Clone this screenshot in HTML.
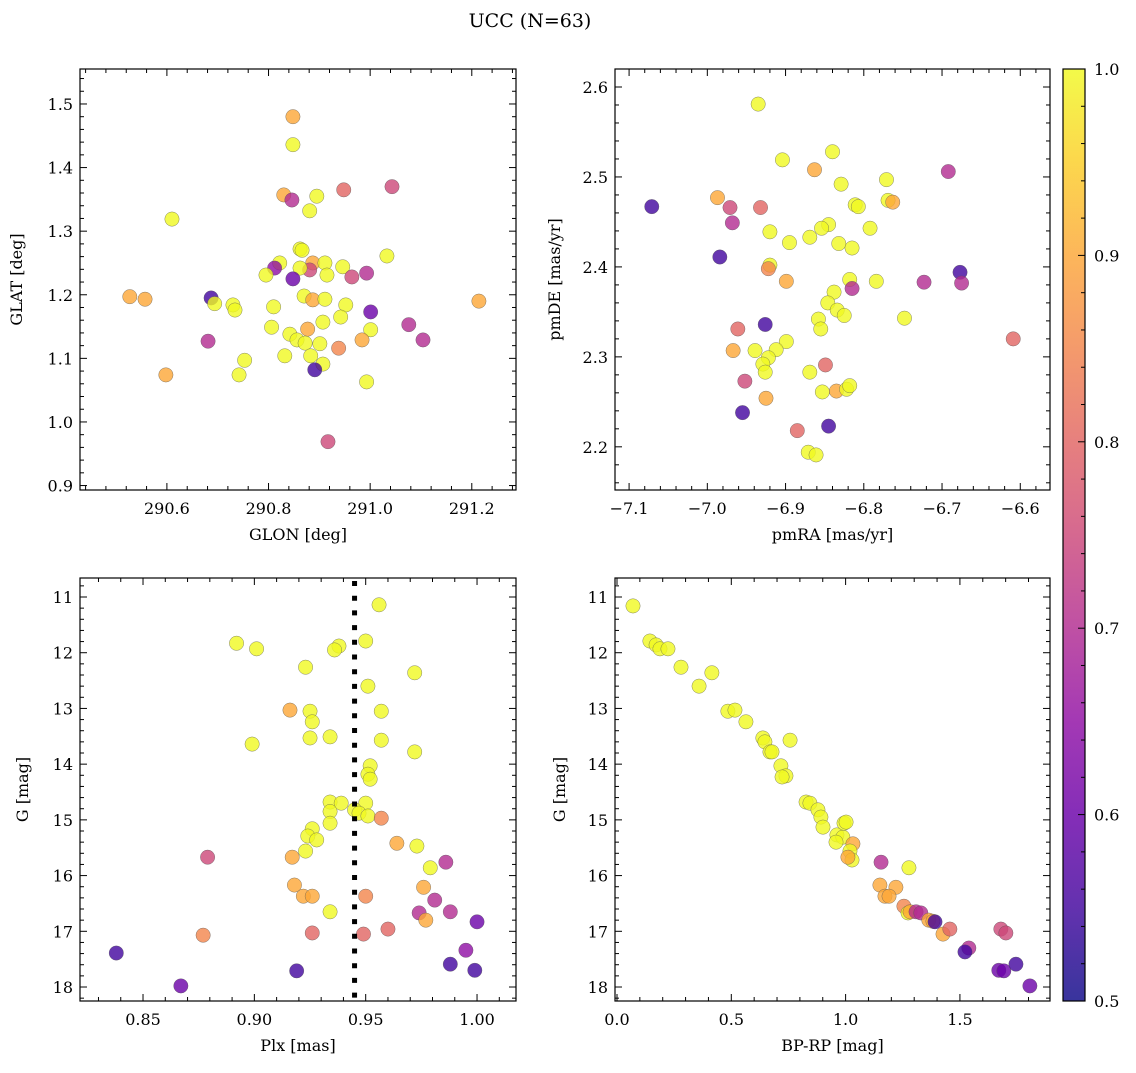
<!DOCTYPE html>
<html><head><meta charset="utf-8"><style>
html,body{margin:0;padding:0;background:#fff}
svg text{font-family:"DejaVu Serif","Liberation Serif",serif;fill:#000}
</style></head><body>
<svg id="fig" width="1136" height="1068" viewBox="0 0 1136 1068" xmlns="http://www.w3.org/2000/svg">
<defs>
<linearGradient id="plasma" x1="0" y1="1" x2="0" y2="0">
<stop offset="0" stop-color="#0d0887"/><stop offset="0.1" stop-color="#41049d"/><stop offset="0.2" stop-color="#6a00a8"/><stop offset="0.3" stop-color="#8f0da4"/><stop offset="0.4" stop-color="#b12a90"/><stop offset="0.5" stop-color="#cc4778"/><stop offset="0.6" stop-color="#e16462"/><stop offset="0.7" stop-color="#f2844b"/><stop offset="0.8" stop-color="#fca636"/><stop offset="0.9" stop-color="#fcce25"/><stop offset="1" stop-color="#f0f921"/>
</linearGradient>
</defs>
<text x="530" y="27" font-size="19" text-anchor="middle">UCC (N=63)</text>
</svg>
<script>
// Panel 1: GLON vs GLAT
const p1x=[290.848,290.848,290.830,290.846,290.895,290.881,290.948,291.043,290.610,290.862,290.866,291.033,290.822,290.887,290.911,290.946,290.812,290.795,290.881,290.862,290.915,290.964,290.993,290.848,290.527,290.557,290.687,290.694,290.730,290.734,290.870,290.887,290.911,290.810,290.952,291.214,291.001,290.942,290.907,291.076,291.001,290.806,290.877,290.842,290.856,290.681,291.104,290.872,290.901,290.984,290.938,290.753,290.832,290.883,290.907,290.891,290.598,290.742,290.993,290.917];
const p1y=[1.480,1.436,1.357,1.349,1.355,1.332,1.365,1.370,1.319,1.272,1.270,1.261,1.250,1.250,1.250,1.244,1.242,1.231,1.239,1.242,1.231,1.228,1.234,1.225,1.197,1.193,1.195,1.186,1.184,1.176,1.198,1.192,1.193,1.181,1.184,1.190,1.173,1.165,1.157,1.153,1.145,1.149,1.146,1.138,1.129,1.127,1.129,1.124,1.123,1.129,1.116,1.097,1.104,1.104,1.091,1.082,1.074,1.074,1.063,0.969];
const p1c=[0.9,1,0.9,0.7,1,1,0.8,0.75,1,1,1,1,1,0.9,1,1,0.65,1,0.75,1,1,0.75,0.7,0.6,0.9,0.9,0.55,1,1,1,1,0.9,1,1,1,0.9,0.6,1,1,0.7,1,1,0.9,1,1,0.7,0.7,1,1,0.9,0.85,1,1,1,1,0.55,0.9,1,1,0.75];
// Panel 2: pmRA vs pmDE
const p2x=[-6.935,-6.840,-6.904,-6.692,-6.863,-6.771,-7.071,-6.987,-6.971,-6.932,-6.829,-6.769,-6.763,-6.811,-6.807,-6.968,-6.845,-6.854,-6.792,-6.920,-6.869,-6.895,-6.832,-6.815,-6.984,-6.920,-6.922,-6.677,-6.723,-6.675,-6.899,-6.784,-6.818,-6.815,-6.838,-6.846,-6.834,-6.825,-6.858,-6.748,-6.855,-6.926,-6.961,-6.899,-6.609,-6.912,-6.967,-6.939,-6.922,-6.929,-6.849,-6.926,-6.869,-6.952,-6.853,-6.835,-6.822,-6.818,-6.925,-6.955,-6.885,-6.845,-6.871,-6.861];
const p2y=[2.581,2.528,2.519,2.506,2.508,2.497,2.467,2.477,2.466,2.466,2.492,2.474,2.472,2.469,2.467,2.449,2.447,2.443,2.443,2.439,2.433,2.427,2.426,2.421,2.411,2.402,2.398,2.394,2.383,2.382,2.384,2.384,2.386,2.376,2.372,2.360,2.352,2.346,2.342,2.343,2.331,2.336,2.331,2.317,2.320,2.308,2.307,2.307,2.299,2.292,2.291,2.283,2.283,2.273,2.261,2.262,2.264,2.268,2.254,2.238,2.218,2.223,2.194,2.191];
const p2c=[1,1,1,0.7,0.9,1,0.55,0.9,0.75,0.8,1,1,0.9,1,1,0.7,1,1,1,1,1,1,1,1,0.55,1,0.85,0.55,0.7,0.7,0.9,1,1,0.7,1,1,1,1,1,1,1,0.55,0.8,1,0.8,1,0.9,1,1,1,0.8,1,1,0.75,1,0.9,1,1,0.9,0.55,0.8,0.55,1,1];
// Panel 3: Plx vs G
const p3x=[0.956,0.892,0.950,0.901,0.938,0.936,0.923,0.972,0.951,0.916,0.925,0.957,0.926,0.899,0.925,0.934,0.957,0.972,0.952,0.951,0.952,0.934,0.939,0.950,0.945,0.947,0.951,0.957,0.934,0.934,0.926,0.924,0.928,0.964,0.973,0.923,0.879,0.917,0.986,0.979,0.918,0.976,0.981,0.922,0.926,0.934,0.950,0.974,0.988,0.977,1.000,0.877,0.926,0.960,0.949,0.995,0.838,0.988,0.999,0.919,0.867];
const p3y=[11.14,11.83,11.79,11.93,11.88,11.95,12.26,12.36,12.60,13.03,13.05,13.05,13.24,13.64,13.53,13.51,13.57,13.78,14.03,14.18,14.27,14.68,14.70,14.70,14.82,14.88,14.93,14.97,14.85,15.06,15.16,15.29,15.36,15.42,15.47,15.56,15.67,15.67,15.76,15.86,16.17,16.21,16.44,16.37,16.37,16.65,16.37,16.67,16.65,16.80,16.83,17.07,17.03,16.96,17.05,17.34,17.39,17.59,17.70,17.71,17.98];
const p3c=[1,1,1,1,1,1,1,1,1,0.9,1,1,1,1,1,1,1,1,1,1,1,1,1,1,1,1,1,0.85,1,1,1,1,1,0.9,1,1,0.75,0.9,0.7,1,0.9,0.9,0.7,0.9,0.9,1,0.85,0.7,0.7,0.9,0.6,0.85,0.8,0.8,0.8,0.65,0.55,0.55,0.55,0.55,0.6];
const plxLine=0.945;
// Panel 4: BP-RP vs G
const p4x=[0.070,0.144,0.171,0.188,0.223,0.280,0.415,0.359,0.485,0.516,0.564,0.638,0.647,0.757,0.669,0.678,0.717,0.739,0.722,0.827,0.844,0.879,0.892,0.901,0.962,0.988,0.993,1.002,0.958,1.032,1.019,1.028,1.010,1.155,1.277,1.150,1.220,1.172,1.190,1.255,1.273,1.282,1.308,1.329,1.364,1.382,1.391,1.426,1.456,1.679,1.701,1.539,1.522,1.670,1.692,1.745,1.806];
const p4y=[11.16,11.79,11.86,11.93,11.93,12.26,12.36,12.60,13.05,13.03,13.24,13.53,13.60,13.57,13.78,13.78,14.03,14.21,14.23,14.68,14.70,14.82,14.95,15.13,15.27,15.31,15.06,15.04,15.40,15.43,15.56,15.72,15.67,15.76,15.86,16.17,16.21,16.37,16.37,16.55,16.67,16.65,16.65,16.67,16.80,16.82,16.83,17.05,16.96,16.96,17.03,17.30,17.37,17.70,17.71,17.59,17.98];
const p4c=[1,1,1,1,1,1,1,1,1,1,1,1,1,1,1,1,1,1,1,1,1,1,1,1,1,1,1,1,1,0.9,1,1,0.9,0.7,1,0.9,0.9,0.9,0.9,0.85,1,0.9,0.7,0.7,0.9,0.9,0.55,0.9,0.8,0.75,0.75,0.7,0.55,0.6,0.6,0.55,0.6];

const NS="http://www.w3.org/2000/svg";
const svg=document.getElementById('fig');
function mk(tag,attrs,parent){const e=document.createElementNS(NS,tag);for(const k in attrs)e.setAttribute(k,attrs[k]);(parent||svg).appendChild(e);return e;}
const stops=[[13,8,135],[65,4,157],[106,0,168],[143,13,164],[177,42,144],[204,71,120],[225,100,98],[242,132,75],[252,166,54],[252,206,37],[240,249,33]];
function plasma(p){let t=Math.max(0,Math.min(1,(p-0.5)/0.5))*10;const i=Math.min(9,Math.floor(t)),f=t-i;const a=stops[i],b=stops[i+1];return `rgb(${a.map((v,k)=>Math.round(v+(b[k]-v)*f)).join(',')})`;}

function panel(cfg){
  const {name,L,T,R,B,x0,x1,y0,y1,xt,yt,xm,ym,xdec,ydec,xlab,ylab,xs,ys,cs,invert}=cfg;
  const sx=v=>L+(v-x0)/(x1-x0)*(R-L);
  const sy=invert?(v=>T+(v-y0)/(y1-y0)*(B-T)):(v=>B-(v-y0)/(y1-y0)*(B-T));
  const g=mk('g',{});
  
  
  const pts=mk('g',{},g);
  
  
  for(let i=0;i<xs.length;i++){
    const c=mk('circle',{cx:sx(xs[i]),cy:sy(ys[i]),r:7.2,fill:plasma(cs[i]),'fill-opacity':0.8,stroke:'#555','stroke-width':0.5,'stroke-opacity':0.7},pts);
    
    
  }
  if(cfg.vline!==undefined){
    const l=mk('line',{x1:sx(cfg.vline),x2:sx(cfg.vline),y1:T+3,y2:B,stroke:'#000','stroke-width':5,'stroke-dasharray':'5 9.7'},g);
    
    
  }
  const fr=mk('rect',{x:L,y:T,width:R-L,height:B-T,fill:'none',stroke:'#000','stroke-width':1.2},g);
  
  
  const lo=Math.min(x0,x1),hi=Math.max(x0,x1);
  for(let v=Math.ceil(lo/xm-1e-6)*xm;v<=hi+1e-9;v+=xm){const X=sx(v);const maj=Math.abs(v/xt-Math.round(v/xt))<1e-4;const len=maj?7:4;
    mk('line',{x1:X,x2:X,y1:B,y2:B-len,stroke:'#000'},g);mk('line',{x1:X,x2:X,y1:T,y2:T+len,stroke:'#000'},g);
    if(maj){const t=mk('text',{x:X,y:B+24,'font-size':16,'text-anchor':'middle'},g);t.textContent=v.toFixed(xdec).replace('-','\u2212');
      }}
  const ylo=Math.min(y0,y1),yhi=Math.max(y0,y1);
  for(let v=Math.ceil(ylo/ym-1e-6)*ym;v<=yhi+1e-9;v+=ym){const Y=sy(v);const maj=Math.abs(v/yt-Math.round(v/yt))<1e-4;const len=maj?7:4;
    mk('line',{x1:L,x2:L+len,y1:Y,y2:Y,stroke:'#000'},g);mk('line',{x1:R,x2:R-len,y1:Y,y2:Y,stroke:'#000'},g);
    if(maj){const t=mk('text',{x:L-7,y:Y+6,'font-size':16,'text-anchor':'end'},g);t.textContent=v.toFixed(ydec);
      }}
  const xl=mk('text',{x:(L+R)/2,y:B+50,'font-size':16,'text-anchor':'middle'},g);xl.textContent=xlab;
  
  const yx=cfg.ylx;const yl=mk('text',{x:yx,y:(T+B)/2,'font-size':16,'text-anchor':'middle',transform:`rotate(-90 ${yx} ${(T+B)/2})`},g);yl.textContent=ylab;
  
}
panel({name:'glon-glat',L:80,T:69,R:516,B:490,x0:290.429,x1:291.287,y0:0.893,y1:1.555,xt:0.2,xm:0.04,yt:0.1,ym:0.02,xdec:1,ydec:1,xlab:'GLON [deg]',ylab:'GLAT [deg]',xs:p1x,ys:p1y,cs:p1c,ylx:22});
panel({name:'proper-motion',L:615,T:69,R:1050,B:490,x0:-7.118,x1:-6.562,y0:2.152,y1:2.62,xt:0.1,xm:0.02,yt:0.1,ym:0.02,xdec:1,ydec:1,xlab:'pmRA [mas/yr]',ylab:'pmDE [mas/yr]',xs:p2x,ys:p2y,cs:p2c,ylx:560});
panel({name:'plx-g',L:80,T:578,R:516,B:1001,x0:0.8217,x1:1.0175,y0:10.659,y1:18.251,xt:0.05,xm:0.01,yt:1,ym:0.2,xdec:2,ydec:0,xlab:'Plx [mas]',ylab:'G [mag]',xs:p3x,ys:p3y,cs:p3c,ylx:28,invert:true,vline:plxLine});
panel({name:'cmd',L:615,T:578,R:1050,B:1001,x0:-0.0087,x1:1.894,y0:10.659,y1:18.251,xt:0.5,xm:0.1,yt:1,ym:0.2,xdec:1,ydec:0,xlab:'BP-RP [mag]',ylab:'G [mag]',xs:p4x,ys:p4y,cs:p4c,ylx:565,invert:true});
// colorbar
const cbT=69,cbB=1001,cbL=1063,cbR=1085;
const cbf=mk('rect',{x:cbL,y:cbT,width:cbR-cbL,height:cbB-cbT,fill:'url(#plasma)','fill-opacity':0.82});


const cb=mk('rect',{x:cbL,y:cbT,width:cbR-cbL,height:cbB-cbT,fill:'none',stroke:'#000','stroke-width':1.2});


for(let i=0;i<=25;i++){const v=0.5+i*0.02;const Y=cbB-(v-0.5)/0.5*(cbB-cbT);const maj=i%5===0;
  mk('line',{x1:cbR,x2:cbR-(maj?7:4),y1:Y,y2:Y,stroke:'#000'});
  if(maj){const t=mk('text',{x:cbR+9,y:Y+6,'font-size':16},svg);t.textContent=v.toFixed(1);
    }}
</script>
</body></html>
